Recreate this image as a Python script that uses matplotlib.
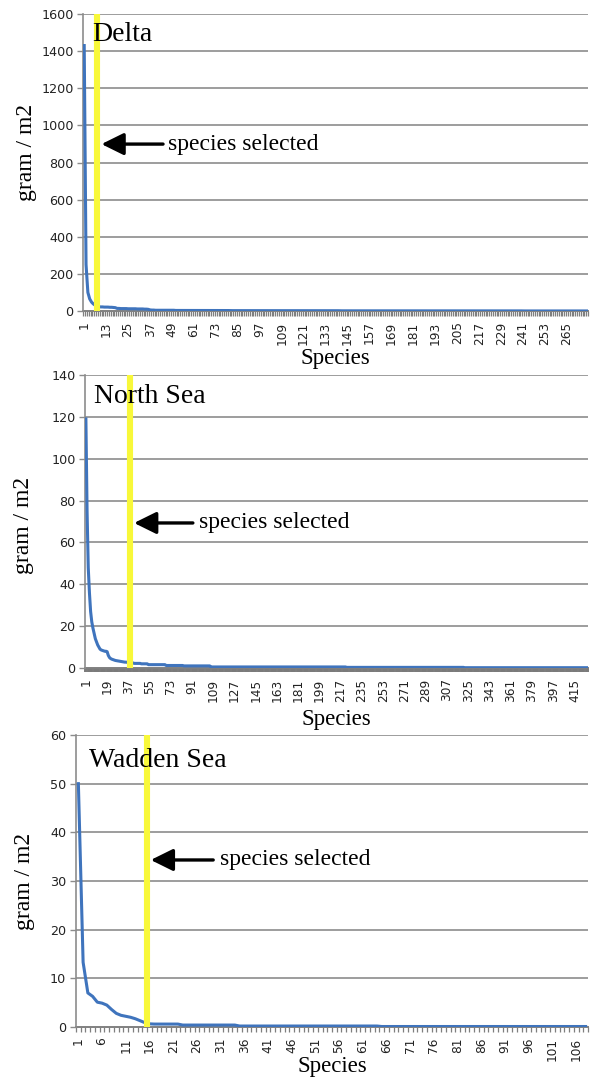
import matplotlib
matplotlib.use("Agg")
import matplotlib.pyplot as plt
import numpy as np


# -----------------------------
# Data (gram / m2 per ranked species)
# -----------------------------

delta_head = [1430, 250, 100, 65, 48, 38, 31, 25, 23, 22, 22, 21, 21, 21, 20, 20,
              19, 18, 14, 14, 13, 13, 13, 13, 12, 12, 12, 12, 12, 11, 11, 11,
              11, 10, 10, 9, 6, 5, 5, 4]
delta_tail = [4] * 10 + [3] * 10 + [2.5] * 20 + [2] * 20 + [1.5] * 40 + [1] * 50 + [0.6] * 50 + [0.3] * 36
delta_values = delta_head + delta_tail

north_head = [119, 75, 48, 36, 27, 22, 19, 16.5, 14, 12.5, 11, 10, 9, 8.6, 8.4, 8.2,
              8.0, 8.0, 7.8, 6.0, 5.0, 4.5, 4.2, 4.0, 3.8, 3.6, 3.5, 3.4, 3.3, 3.2,
              3.1, 3.0, 2.9, 2.8, 2.8, 2.7, 2.6, 2.5, 2.5, 2.4, 2.4]
north_tail = [2.2] * 6 + [2.0] * 6 + [1.6] * 15 + [1.2] * 15 + [1.0] * 23 + [0.5] * 115 + [0.3] * 100 + [0.15] * 105
north_values = north_head + north_tail

wadden_head = [50, 13.3, 7.0, 6.3, 5.1, 4.9, 4.5, 3.6, 2.8, 2.4, 2.2, 2.0, 1.7, 1.3, 0.9, 0.65]
wadden_tail = [0.6] * 6 + [0.4] * 12 + [0.2] * 30 + [0.1] * 44
wadden_values = wadden_head + wadden_tail

panel_names = ["Delta", "North Sea", "Wadden Sea"]
panel_values = [delta_values, north_values, wadden_values]
label_steps = [12, 18, 5]
y_max = [1600, 140, 60]
y_step = [200, 20, 10]
selected = [8, 38.5, 15.5]          # species rank where the yellow line sits
arrow_text = "species selected"


# -----------------------------
# Layout (pixel-derived figure fractions)
# -----------------------------

W, H = 590, 1079
boxes = [
    (83.3, 588, 14, 311),
    (85.3, 588, 375, 668),
    (76, 588, 735, 1027),
]
# arrow head x, arrow tail x, arrow y, text x  (axes fraction)
arrows = [
    (0.036, 0.158, 0.562, 0.168),
    (0.097, 0.214, 0.495, 0.226),
    (0.146, 0.268, 0.572, 0.281),
]
name_pos = [(0.018, 0.909), (0.018, 0.904), (0.025, 0.890)]
ylabel_pos = [(-0.091, 0.535), (-0.103, 0.485), (-0.080, 0.497)]
xlabel_y = [-0.125, -0.140, -0.100]

serif = ["Liberation Serif", "DejaVu Serif"]
grid_col = "#8c8c8c"
line_col = "#3f74bd"
yellow = "#f8f83a"

fig = plt.figure(figsize=(W / 100, H / 100), dpi=100)

for i in range(3):
    left, right, top, bottom = boxes[i]
    ax = fig.add_axes([left / W, 1 - bottom / H, (right - left) / W, (bottom - top) / H])

    vals = panel_values[i]
    n = len(vals)
    x = np.arange(1, n + 1)

    ax.plot(x, vals, color=line_col, lw=2.2, zorder=3, solid_joinstyle="round")
    ax.axvline(selected[i], color=yellow, lw=4.4, zorder=4)

    ax.set_xlim(0.5, n + 0.5)
    ax.set_ylim(0, y_max[i])

    # horizontal grid
    yt = np.arange(0, y_max[i] + 1, y_step[i])
    ax.set_yticks(yt)
    ax.set_yticklabels([str(v) for v in yt])
    for v in yt[1:]:
        ax.axhline(v, color=grid_col, lw=1.2, zorder=1)

    # category axis: labels every few species, comb ticks at boundaries
    xt = np.arange(1, n + 1, label_steps[i])
    ax.set_xticks(xt)
    ax.set_xticklabels([str(v) for v in xt], rotation=90)
    ax.set_xticks(np.arange(0.5, n + 1, 1), minor=True)
    ax.tick_params(axis="x", which="major", length=0, pad=7.5, labelsize=8.7, labelcolor="#222222")
    if i == 1:
        # ticks so dense they merge into a solid grey bar
        ax.tick_params(axis="x", which="minor", length=2.6, width=1.4, color="#7a7a7a", direction="out")
    else:
        ax.tick_params(axis="x", which="minor", length=3.8, width=0.9, color="#7f7f7f", direction="out")
    ax.tick_params(axis="y", length=4, width=1.0, color=grid_col, pad=3, labelsize=9.2, labelcolor="#222222")

    for s in ["top", "right"]:
        ax.spines[s].set_visible(False)
    ax.spines["left"].set_color(grid_col)
    ax.spines["left"].set_linewidth(1.2)
    ax.spines["bottom"].set_color("#808080")
    ax.spines["bottom"].set_linewidth(1.4)
    ax.spines["bottom"].set_zorder(2)

    ax.set_ylabel("gram / m2", family=serif, fontsize=17)
    ax.yaxis.set_label_coords(*ylabel_pos[i])
    ax.set_xlabel("Species", family=serif, fontsize=16.5)
    ax.xaxis.set_label_coords(0.5, xlabel_y[i])

    ax.text(name_pos[i][0], name_pos[i][1], panel_names[i], transform=ax.transAxes,
            family=serif, fontsize=20, va="baseline", ha="left", zorder=5)

    hx, tx, ay, txt_x = arrows[i]
    ax.annotate("", xy=(hx, ay), xycoords="axes fraction",
                xytext=(tx, ay), textcoords="axes fraction",
                arrowprops=dict(arrowstyle="-|>,head_length=0.85,head_width=0.42",
                                mutation_scale=16, color="black", lw=2.4,
                                shrinkA=0, shrinkB=0),
                zorder=5)
    ax.text(txt_x, ay, arrow_text, transform=ax.transAxes, family=serif,
            fontsize=17, va="center", ha="left", zorder=5)

fig.savefig("out.png", dpi=100)
